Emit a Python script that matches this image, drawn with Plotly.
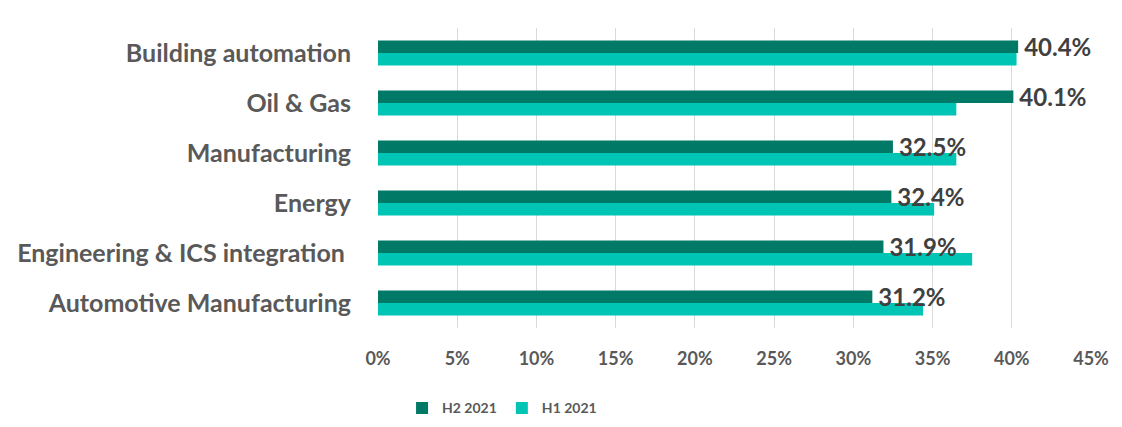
import plotly.graph_objects as go

categories = ["Automotive Manufacturing", "Engineering & ICS integration ", "Energy",
              "Manufacturing", "Oil & Gas", "Building automation"]
h2_2021 = [31.2, 31.9, 32.4, 32.5, 40.1, 40.4]
h1_2021 = [34.4, 37.5, 35.1, 36.5, 36.5, 40.3]
x_ticks = [0, 5, 10, 15, 20, 25, 30, 35, 40, 45]
x_tick_labels = [f"{v}%" for v in x_ticks]

FONT = "Lato"
GRAY = "#595959"

fig = go.Figure()
fig.add_trace(go.Bar(
    y=categories, x=h1_2021, name="H1 2021", orientation="h",
    marker=dict(color="#00C5B5", line=dict(width=0)), legendrank=2,
))
fig.add_trace(go.Bar(
    y=categories, x=h2_2021, name="H2 2021", orientation="h",
    marker=dict(color="#007A66", line=dict(width=0)), legendrank=1,
    text=[f"\u2009{v:.1f}%" for v in h2_2021], textposition="outside",
    constraintext="none", cliponaxis=False,
    textfont=dict(family=FONT, size=24, color="#404040", weight="bold"),
))

fig.update_layout(
    width=1122, height=427,
    margin=dict(l=378, r=31, t=28, b=99, autoexpand=False),
    paper_bgcolor="white", plot_bgcolor="white",
    barmode="group", bargap=0.5, bargroupgap=0,
    font=dict(family=FONT, color=GRAY),
    showlegend=True,
    legend=dict(orientation="h", x=0.174, xanchor="center", y=-0.268, yanchor="middle",
                font=dict(family=FONT, size=14, color=GRAY, weight="bold"),
                itemwidth=30, tracegroupgap=0),
    xaxis=dict(range=[0, 45], tickvals=x_ticks, ticktext=x_tick_labels,
               showgrid=True, gridcolor="#D9D9D9", gridwidth=1,
               zeroline=False, showline=False, ticks="", automargin=False,
               ticklabelstandoff=18,
               tickfont=dict(family=FONT, size=18, color=GRAY, weight="bold")),
    yaxis=dict(showgrid=False, zeroline=False, showline=False, ticks="", automargin=False,
               ticklabelstandoff=26,
               tickfont=dict(family=FONT, size=25, color=GRAY, weight="bold")),
)

fig.write_html("out.html", config={"displayModeBar": False})

with open("out.html", encoding="utf-8") as f:
    html = f.read()
html = html.replace("<body>", '<body style="margin:0;padding:0;">', 1)
with open("out.html", "w", encoding="utf-8") as f:
    f.write(html)
